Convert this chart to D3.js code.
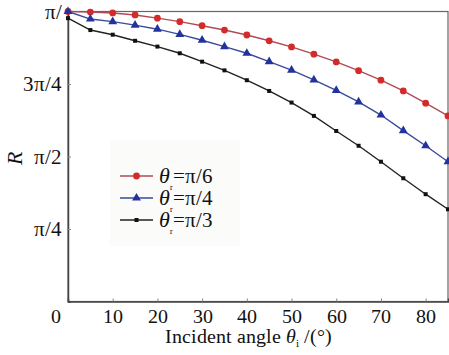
<!DOCTYPE html>
<html><head><meta charset="utf-8">
<script src="https://cdn.jsdelivr.net/npm/d3@7"></script>
<style>
@font-face{font-family:"ChartSerif";src:local("Liberation Serif"),local("LiberationSerif"),local("Times New Roman"),local("Tinos");font-style:normal;}
@font-face{font-family:"ChartSerif";src:local("Liberation Serif Italic"),local("LiberationSerif-Italic"),local("Times New Roman Italic");font-style:italic;}
body{margin:0}
svg text{font-family:"ChartSerif","Liberation Serif","Times New Roman",Tinos,FreeSerif;}
</style>
</head><body>
<svg id="c" width="449" height="355"></svg>
<script>
// incident angle (degrees)
const angles = [0,5,10,15,20,25,30,35,40,45,50,55,60,65,70,75,80,85];
// R in units of pi
const rPi6 = [1.0,0.998,0.995,0.988,0.977,0.965,0.951,0.936,0.919,0.899,0.878,0.853,0.826,0.796,0.763,0.726,0.684,0.640];
const rPi4 = [1.0,0.974,0.965,0.953,0.939,0.921,0.901,0.879,0.856,0.827,0.798,0.764,0.728,0.688,0.643,0.589,0.537,0.482];
const rPi3 = [0.977,0.936,0.920,0.899,0.879,0.856,0.827,0.797,0.763,0.726,0.686,0.640,0.588,0.537,0.482,0.425,0.370,0.318];
const seriesNames = ["π/6","π/4","π/3"];
const xTicks = [0,10,20,30,40,50,60,70,80];
const yTicks = [0.25,0.5,0.75,1.0];
const yTickLabels = ["π/4","π/2","3π/4","π/"];

const svg = d3.select("#c");
const xs = d3.scaleLinear().domain([0,85]).range([68,448]);
const ys = d3.scaleLinear().domain([0,1]).range([301.5,11.5]);
function serif(sel, size){
  return sel.attr("font-family","Liberation Serif").attr("font-size",size).style("font-size",size+"px");
}

// frame
svg.append("rect").attr("x",68).attr("y",11.5).attr("width",380).attr("height",290)
  .attr("fill","none").attr("stroke","#666").attr("stroke-width",1.2);

// x axis
const gx = svg.append("g").attr("transform","translate(0,301.5)")
  .call(d3.axisBottom(xs).tickValues(xTicks).tickSize(-3).tickPadding(7).tickFormat(d3.format("d")));
serif(gx, 20);
gx.select(".domain").attr("stroke","#444").attr("stroke-width",1.5);
gx.selectAll(".tick line").attr("stroke","#888");
serif(gx.selectAll("text"), 20).attr("fill","#111");
gx.selectAll(".tick").filter(d=>d===0).select("text").attr("dx",-13);

// y axis
const gy = svg.append("g").attr("transform","translate(68,0)")
  .call(d3.axisLeft(ys).tickValues(yTicks).tickSize(-3).tickPadding(6).tickFormat((d,i)=>yTickLabels[i]));
serif(gy, 21);
gy.select(".domain").attr("stroke","#444").attr("stroke-width",1.5);
gy.selectAll(".tick line").attr("stroke","#888");
serif(gy.selectAll("text"), 21).attr("fill","#111");

// axis titles
const xt = serif(svg.append("text").attr("x",248).attr("y",343).attr("text-anchor","middle"), 20).attr("fill","#111");
xt.append("tspan").text("Incident angle ");
xt.append("tspan").style("font-style","italic").text("θ");
xt.append("tspan").style("font-size","11px").attr("dy",4).text("i");
xt.append("tspan").attr("dy",-4).text(" /(°)");

serif(svg.append("text").attr("transform","translate(22,158) rotate(-90)").attr("text-anchor","middle"), 22)
  .style("font-style","italic").attr("fill","#111").text("R");

const data = [rPi6, rPi4, rPi3];
const lineColors = ["#b04a55","#3b4a99","#222"];
const markColors = ["#d42a2a","#2233a0","#111"];
const symbols = [d3.symbolCircle, d3.symbolTriangle, d3.symbolSquare];
const symSizes = [36, 34, 16];

const lineGen = d3.line().x((d,i)=>xs(angles[i])).y(d=>ys(d));
data.forEach((vals,k)=>{
  svg.append("path").datum(vals).attr("d",lineGen).attr("fill","none")
    .attr("stroke",lineColors[k]).attr("stroke-width",1.4);
});
data.forEach((vals,k)=>{
  svg.append("g").selectAll("path").data(vals).join("path")
    .attr("transform",(d,i)=>`translate(${xs(angles[i])},${ys(d)})`)
    .attr("d",d3.symbol().type(symbols[k]).size(symSizes[k]))
    .attr("fill",markColors[k]);
});

// legend
const lg = svg.append("g");
lg.append("rect").attr("x",110).attr("y",140).attr("width",130).attr("height",106).attr("fill","#fbfbfa");
const rowY = [176,198,220];
seriesNames.forEach((nm,k)=>{
  lg.append("line").attr("x1",120).attr("x2",153).attr("y1",rowY[k]).attr("y2",rowY[k])
    .attr("stroke",lineColors[k]).attr("stroke-width",1.4);
  lg.append("path").attr("transform",`translate(136.5,${rowY[k]})`)
    .attr("d",d3.symbol().type(symbols[k]).size(symSizes[k])).attr("fill",markColors[k]);
  serif(lg.append("text").attr("x",159).attr("y",rowY[k]+7), 22)
    .style("font-style","italic").attr("fill","#111").text("θ");
  serif(lg.append("text").attr("x",170).attr("y",rowY[k]+14), 8).attr("fill","#111").text("r");
  serif(lg.append("text").attr("x",173).attr("y",rowY[k]+7), 21).attr("fill","#111").text("=" + nm);
});
</script>
</body></html>
